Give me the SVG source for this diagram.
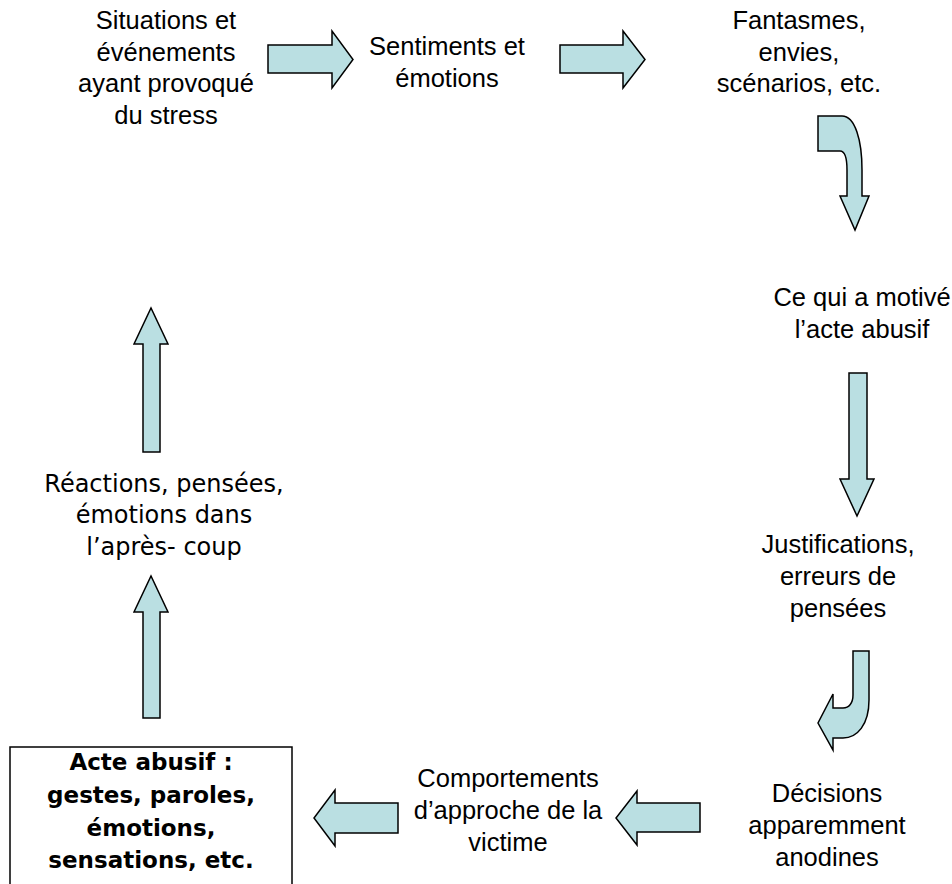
<svg xmlns="http://www.w3.org/2000/svg" width="952" height="884" viewBox="0 0 952 884">
<style>
.a{fill:#BADFE2;stroke:#000;stroke-width:1.5;stroke-linejoin:miter}
.t{font-family:"Liberation Sans",Arial,sans-serif;font-size:25.5px;fill:#000;text-anchor:middle}
.c{font-family:"Comic Sans MS","DejaVu Sans",sans-serif;font-size:24px;fill:#000;text-anchor:middle}
.cb{font-family:"Comic Sans MS","DejaVu Sans",sans-serif;font-size:23px;font-weight:bold;fill:#000;text-anchor:middle}
</style>
<rect width="952" height="884" fill="#fff"/>
<g id="connectors">
<path class="a" d="M268,45 L332,45 L332,31 L353,59.5 L332,88 L332,73 L268,73 Z"/>
<path class="a" d="M560,45 L623,45 L623,31 L645,59.5 L623,88 L623,73 L560,73 Z"/>
<path class="a" d="M818,116 L842,116 C855,116 862,140 862,170 L862,196 L869,196 L855,230 L840,196 L847,196 L847,170 C847,158 845,151 840,151 L818,151 Z"/>
<path class="a" d="M849,373 L867,373 L867,479 L874,479 L857,516 L840,479 L849,479 Z"/>
<path class="a" d="M853,651 L869,651 L869,700 C869,725 857,738 843,738 L833,738 L833,750 L818,723 L833,694 L833,708 L843,708 C849,708 853,703 853,695 Z"/>
<path class="a" d="M700,803 L637,803 L637,791 L616,818 L637,845 L637,832 L700,832 Z"/>
<path class="a" d="M398,803 L335,803 L335,790 L314,818 L335,846 L335,833 L398,833 Z"/>
<path class="a" d="M143,718 L160,718 L160,612 L168,612 L151,576 L134,612 L143,612 Z"/>
<path class="a" d="M143,452 L160,452 L160,344 L168,344 L151,308 L134,344 L143,344 Z"/>
</g>
<g id="n1"><text class="t" x="166" y="29">Situations et</text><text class="t" x="166" y="61">événements</text><text class="t" x="166" y="92">ayant provoqué</text><text class="t" x="166" y="124">du stress</text></g>
<g id="n2"><text class="t" x="447" y="55">Sentiments et</text><text class="t" x="447" y="87">émotions</text></g>
<g id="n3"><text class="t" x="799" y="29">Fantasmes,</text><text class="t" x="799" y="61">envies,</text><text class="t" x="799" y="92">scénarios, etc.</text></g>
<g id="n4"><text class="t" x="862" y="306">Ce qui a motivé</text><text class="t" x="862" y="338">l’acte abusif</text></g>
<g id="n5"><text class="t" x="838" y="553">Justifications,</text><text class="t" x="838" y="585">erreurs de</text><text class="t" x="838" y="617">pensées</text></g>
<g id="n6"><text class="t" x="827" y="802">Décisions</text><text class="t" x="827" y="834">apparemment</text><text class="t" x="827" y="866">anodines</text></g>
<g id="n7"><text class="t" x="508" y="787">Comportements</text><text class="t" x="508" y="819">d’approche de la</text><text class="t" x="508" y="851">victime</text></g>
<g id="n8"><rect x="10" y="747" width="282" height="150" fill="#fff" stroke="#000" stroke-width="1.5"/><text class="cb" x="151" y="770">Acte abusif :</text><text class="cb" x="151" y="803">gestes, paroles,</text><text class="cb" x="151" y="836">émotions,</text><text class="cb" x="151" y="868">sensations, etc.</text></g>
<g id="n9"><text class="c" x="164" y="492">Réactions, pensées,</text><text class="c" x="164" y="523">émotions dans</text><text class="c" x="164" y="555">l’après- coup</text></g>
</svg>
